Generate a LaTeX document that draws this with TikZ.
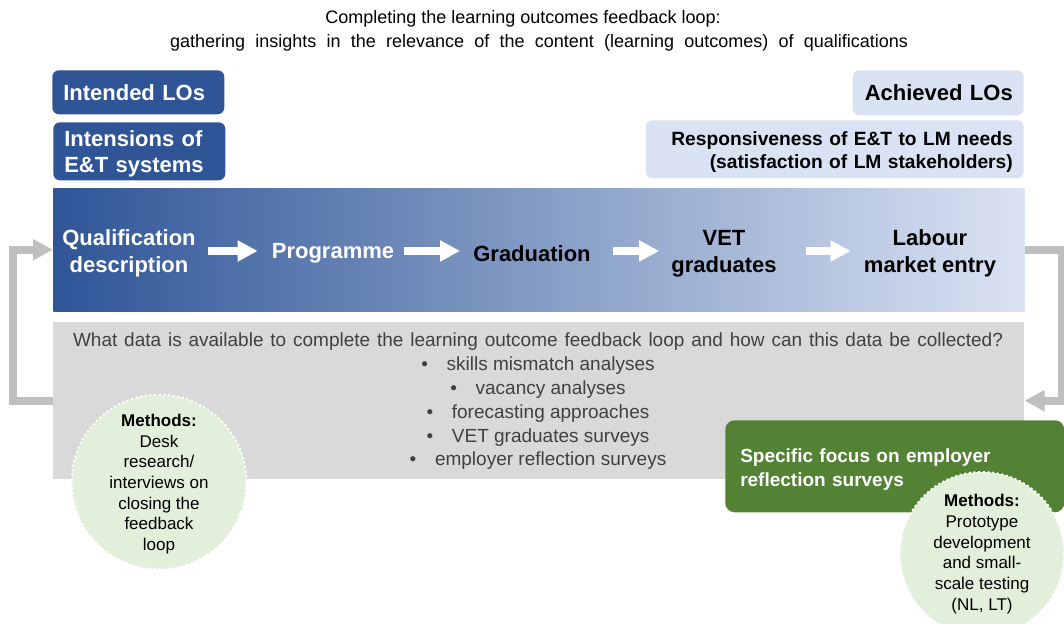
\documentclass[tikz,border=0pt]{standalone}
\usepackage{fontspec}
\setmainfont{Liberation Sans}
\usetikzlibrary{arrows.meta}
\definecolor{dkblue}{HTML}{2F5597}
\definecolor{ltblue}{HTML}{DAE3F3}
\definecolor{boxgray}{HTML}{D9D9D9}
\definecolor{loopgray}{HTML}{BFBFBF}
\definecolor{txtgray}{HTML}{404040}
\definecolor{dkgreen}{HTML}{548235}
\definecolor{ltgreen}{HTML}{E2EFDA}
\begin{document}
\begin{tikzpicture}[x=0.75pt,y=-0.75pt,
  titletext/.style={font=\fontsize{13.5}{16}\selectfont, inner sep=0pt},
  lbl/.style={font=\fontsize{16.5}{20.25}\selectfont\bfseries, inner sep=0pt, align=center},
  bluebox/.style={fill=dkblue, text=white, rounded corners=5pt, font=\fontsize{16.5}{19.5}\selectfont\bfseries, align=left, anchor=north west, inner xsep=8.25pt, inner ysep=0pt},
  lightbox/.style={fill=ltblue, text=black, rounded corners=5pt, align=right, anchor=north east, inner xsep=8.25pt, inner ysep=0pt},
  barrow/.style={white, line width=6pt, -{Triangle[length=15pt,width=15pt]}},
  looparrow/.style={loopgray, line width=6pt, line join=miter, -{Triangle[length=15pt,width=15pt]}},
  method/.style={circle, fill=ltgreen, draw=white, dotted, line width=1.5pt, align=center, inner sep=0pt, font=\fontsize{12.75}{15.5}\selectfont}
]
\useasboundingbox (0,0) rectangle (1064,624);

% title
\node[titletext] (t1) at (523,18.5) {Completing the learning outcomes feedback loop:};
\node[titletext] (t2) at (539,42.5) {\makebox[553.5pt][s]{gathering insights in the relevance of the content (learning outcomes) of qualifications}};

% top boxes
\node[bluebox, text width=112.5pt, minimum height=33pt] (int) at (52,70) {Intended LOs};
\node[bluebox, text width=112.5pt, minimum height=43.5pt] (intens) at (53,122) {\rule{0pt}{16.5pt}Intensions of\\E\&T systems};
\node[lightbox, text width=111.75pt, minimum height=33.75pt, font=\fontsize{16.5}{19.5}\selectfont\bfseries] (ach) at (1024,70) {Achieved LOs};
\node[lightbox, text width=267pt, minimum height=43.5pt, font=\fontsize{14.4}{17.25}\selectfont\bfseries] (resp) at (1024,120) {\rule{0pt}{15pt}Responsiveness of E\&T to LM needs\\(satisfaction of LM stakeholders)};

% band and gray box
\node[anchor=north west, minimum width=728.25pt, minimum height=92.25pt, inner sep=0pt, left color=dkblue, right color=ltblue] (band) at (53,188) {};
\node[anchor=north west, minimum width=728.25pt, minimum height=117.75pt, inner sep=0pt, fill=boxgray] (gray) at (53,322) {};

% band labels
\node[lbl, text=white] (qual) at (129,253.5) {Qualification\\description};
\node[lbl, text=white] (prog) at (333,253.5) {Programme};
\node[lbl] (grad) at (532,253.5) {Graduation};
\node[lbl] (vet) at (724,253.5) {VET\\graduates};
\node[lbl] (lab) at (930,253.5) {Labour\\market entry};

\draw[barrow, shorten <=9pt, shorten >=10.5pt] ([yshift=1.9pt]qual.east) -- ([yshift=1.9pt]prog.west);
\draw[barrow, shorten <=7.5pt, shorten >=9.75pt] ([yshift=1.9pt]prog.east) -- ([yshift=1.9pt]grad.west);
\draw[barrow, shorten <=16.5pt, shorten >=9pt] ([yshift=1.9pt]grad.east) -- ([yshift=1.9pt]vet.west);
\draw[barrow, shorten <=21.75pt, shorten >=9.75pt] ([yshift=1.9pt]vet.east) -- ([yshift=1.9pt]lab.west);

% gray box text
\node[align=center, text=txtgray, font=\fontsize{14.25}{17.85}\selectfont, inner sep=0pt] (data) at (538,401.5)
  {\makebox[697.5pt][s]{What data is available to complete the learning outcome feedback loop and how can this data be collected?}\\
   •\hspace{14pt}skills mismatch analyses\\
   •\hspace{14pt}vacancy analyses\\
   •\hspace{14pt}forecasting approaches\\
   •\hspace{14pt}VET graduates surveys\\
   •\hspace{14pt}employer reflection surveys};

% feedback loops
\draw[looparrow] (gray.west) -- ++(-40,0) |- (band.west);
\draw[looparrow] (band.east) -- ++(37,0) |- (gray.east);

% green focus box
\node[fill=dkgreen, rounded corners=7pt, anchor=north west, minimum width=254.25pt, minimum height=69pt,
      text width=231.75pt, inner xsep=11.25pt, inner ysep=0pt, align=left, text=white,
      font=\fontsize{14.25}{18}\selectfont\bfseries] (focus) at (725,420) {\rule{0pt}{15pt}Specific focus on employer\\reflection surveys};

% method circles
\node[method, minimum size=127.5pt] (mleft) at (159,482) {\rule{0pt}{12.3pt}\textbf{Methods:}\\Desk\\research/\\interviews on\\closing the\\feedback\\loop};
\node[method, minimum size=123pt] (mright) at (982,554) {\textbf{Methods:}\\Prototype\\development\\and small-\\scale testing\\(NL, LT)};
\end{tikzpicture}
\end{document}
